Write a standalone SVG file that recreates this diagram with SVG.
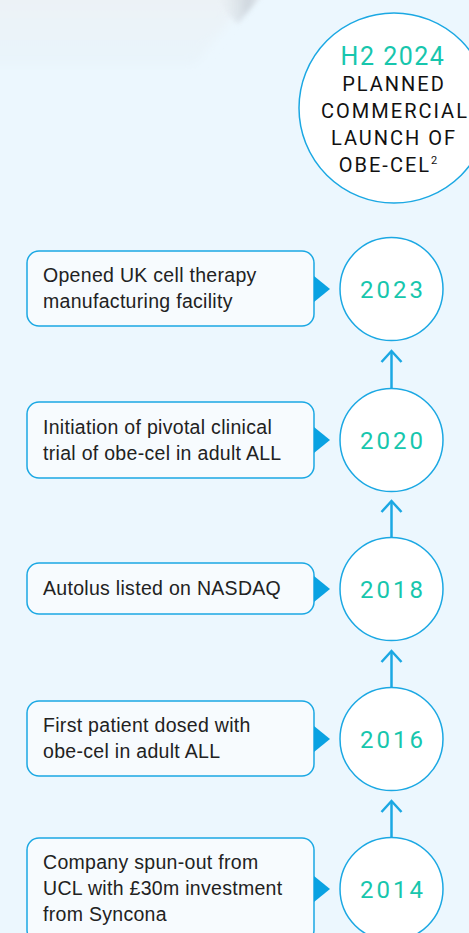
<svg xmlns="http://www.w3.org/2000/svg" width="469" height="933" viewBox="0 0 469 933">
<defs>
<style>
.box{fill:#f7fbfe;stroke:#1ba8e3;stroke-width:1.5}
.ptr{fill:#0aa2e2}
.yc{fill:#ffffff;stroke:#1ba8e3;stroke-width:1.5}
.yr{font-family:Roboto,"DejaVu Sans",sans-serif;font-size:24px;fill:#17c6ad;letter-spacing:3px;text-anchor:middle}
.lb{font-family:"Liberation Sans",Arial,sans-serif;font-size:19.5px;fill:#222222;letter-spacing:0.3px}
.hd{font-family:Roboto,"DejaVu Sans",sans-serif;font-size:20px;fill:#111111;letter-spacing:2px;text-anchor:middle}
.con{stroke:#1ba8e3;stroke-width:2.5;fill:none}
</style>
<filter id="blur" x="-20%" y="-50%" width="140%" height="200%"><feGaussianBlur stdDeviation="5"/></filter>
<filter id="blur2" x="-50%" y="-50%" width="200%" height="200%"><feGaussianBlur stdDeviation="2.5"/></filter>
<linearGradient id="card" x1="0" y1="0" x2="0" y2="1"><stop offset="0" stop-color="#edf2f5"/><stop offset="1" stop-color="#e9f4fb"/></linearGradient>
<linearGradient id="fold" x1="0" y1="0" x2="1" y2="0"><stop offset="0" stop-color="#e6ebef" stop-opacity="0"/><stop offset="0.7" stop-color="#c8cfd7"/><stop offset="1" stop-color="#dfe5ea"/></linearGradient>
</defs>
<rect width="469" height="933" fill="#ecf7fe"/>
<g id="backdrop">
<polygon points="-20,-20 262,-20 195,65 -20,65" fill="url(#card)" filter="url(#blur)"/>
<polygon points="215,-5 262,-5 238,24 228,14" fill="url(#fold)" filter="url(#blur2)" opacity="0.8"/>
</g>
<g id="connectors">
<line class="con" x1="391.5" y1="388" x2="391.5" y2="351"/><polyline class="con" points="381.5,362 391.5,351 401.5,362"/>
<line class="con" x1="391.5" y1="538" x2="391.5" y2="501"/><polyline class="con" points="381.5,512 391.5,501 401.5,512"/>
<line class="con" x1="391.5" y1="688" x2="391.5" y2="651"/><polyline class="con" points="381.5,662 391.5,651 401.5,662"/>
<line class="con" x1="391.5" y1="838" x2="391.5" y2="801"/><polyline class="con" points="381.5,812 391.5,801 401.5,812"/>
</g>
<g id="launch">
<circle class="yc" cx="394" cy="108" r="95"/>
<text x="393" y="65" font-family="Roboto,'DejaVu Sans',sans-serif" font-size="25" fill="#17c6ad" letter-spacing="1.5" text-anchor="middle">H2 2024</text>
<text class="hd" x="394" y="91">PLANNED</text>
<text class="hd" x="395" y="118">COMMERCIAL</text>
<text class="hd" x="394" y="145">LAUNCH OF</text>
<text class="hd" x="389" y="172">OBE-CEL<tspan font-size="11" dy="-8">2</tspan></text>
</g>
<g id="y2023">
<rect class="box" x="27" y="251" width="287" height="75" rx="12"/>
<polygon class="ptr" points="314,276 330,289 314,302"/>
<text class="lb" x="43" y="282">Opened UK cell therapy</text>
<text class="lb" x="43" y="308">manufacturing facility</text>
<circle class="yc" cx="391.5" cy="289" r="51.5"/>
<text class="yr" x="393" y="298">2023</text>
</g>
<g id="y2020">
<rect class="box" x="27" y="402" width="287" height="76" rx="12"/>
<polygon class="ptr" points="314,427 330,440 314,453"/>
<text class="lb" x="43" y="434">Initiation of pivotal clinical</text>
<text class="lb" x="43" y="460">trial of obe-cel in adult ALL</text>
<circle class="yc" cx="391.5" cy="440" r="51.5"/>
<text class="yr" x="393" y="449">2020</text>
</g>
<g id="y2018">
<rect class="box" x="27" y="563" width="287" height="51" rx="12"/>
<polygon class="ptr" points="314,576 330,589 314,602"/>
<text class="lb" x="43" y="595">Autolus listed on NASDAQ</text>
<circle class="yc" cx="391.5" cy="589" r="51.5"/>
<text class="yr" x="393" y="598">2018</text>
</g>
<g id="y2016">
<rect class="box" x="27" y="701" width="287" height="75" rx="12"/>
<polygon class="ptr" points="314,726 330,739 314,752"/>
<text class="lb" x="43" y="732">First patient dosed with</text>
<text class="lb" x="43" y="758">obe-cel in adult ALL</text>
<circle class="yc" cx="391.5" cy="739" r="51.5"/>
<text class="yr" x="393" y="748">2016</text>
</g>
<g id="y2014">
<rect class="box" x="27" y="838" width="287" height="104" rx="12"/>
<polygon class="ptr" points="314,876 330,889 314,902"/>
<text class="lb" x="43" y="869">Company spun-out from</text>
<text class="lb" x="43" y="895">UCL with £30m investment</text>
<text class="lb" x="43" y="921">from Syncona</text>
<circle class="yc" cx="391.5" cy="889" r="51.5"/>
<text class="yr" x="393" y="898">2014</text>
</g>
</svg>
